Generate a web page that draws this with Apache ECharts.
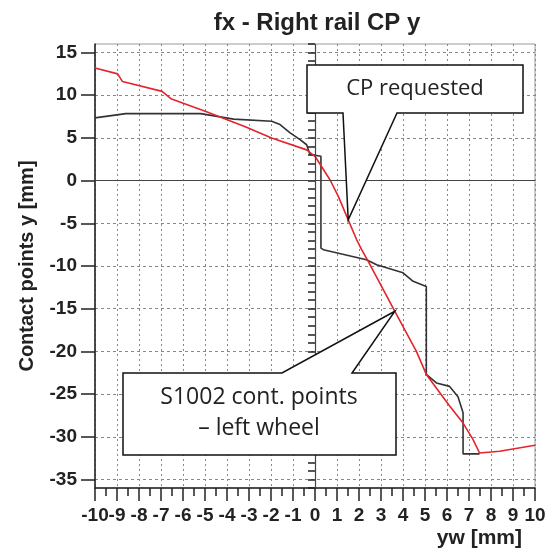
<!DOCTYPE html>
<html>
<head>
<meta charset="utf-8">
<script src="https://cdn.jsdelivr.net/npm/echarts@6/dist/echarts.min.js"></script>
<style>
  html, body { margin: 0; padding: 0; background: #fff; }
  #chart { width: 553px; height: 550px; }
</style>
</head>
<body>
<div id="chart"></div>
<script>
// red curve (CP requested / S1002 contact points)
const redX = [-10, -8.97, -8.75, -6.95, -6.55, -4.96, -3.17, -1.97, -0.38, 0, 0.68, 1.06, 1.51, 1.89, 2.12, 2.42, 3.63, 4.61, 5.06, 6.12, 6.73, 7.18, 7.48, 8.39, 10]
const redY = [13.2, 12.5, 11.6, 10.45, 9.6, 8.1, 6.3, 5.0, 3.6, 2.85, 0.1, -1.84, -4.6, -6.9, -8.09, -9.46, -15.3, -20.0, -22.7, -26.4, -28.4, -30.3, -31.9, -31.7, -31.0]

// black curve (S1002 left wheel)
const blackX = [-10, -8.6, -5.2, -3.7, -1.97, -1.59, -1.13, -0.68, -0.38, -0.23, 0.27, 0.27, 0.38, 2.34, 2.8, 4.0, 4.46, 5.06, 5.06, 5.52, 6.12, 6.5, 6.73, 6.73, 7.48]
const blackY = [7.35, 7.85, 7.85, 7.2, 6.95, 6.56, 5.6, 4.8, 4.2, 3.05, 2.85, -7.9, -8.09, -9.26, -9.85, -10.8, -11.8, -12.4, -22.7, -23.7, -24.1, -25.3, -27.2, -32.0, -32.0]

const yMajor = [-35, -30, -25, -20, -15, -10, -5, 0, 5, 10, 15]

const pair = (xs, ys) => xs.map((x, i) => [x, ys[i]])

const chart = echarts.init(document.getElementById('chart'))
const boldFont = { fontFamily: 'Liberation Sans, Arial, sans-serif', fontWeight: 'bold', color: '#222' }

chart.setOption({
  backgroundColor: '#fff',
  animation: false,
  title: {
    text: 'fx - Right rail CP y',
    left: 312,
    textAlign: 'center',
    top: 6,
    textStyle: { ...boldFont, fontSize: 24 }
  },
  grid: {
    left: 95, right: 18, top: 44, bottom: 62,
    show: true, borderColor: '#999', borderWidth: 1, backgroundColor: '#fff'
  },
  xAxis: {
    type: 'value',
    min: -10, max: 10, interval: 1,
    name: 'yw [mm]',
    nameLocation: 'end',
    nameGap: -13,
    nameTextStyle: { ...boldFont, fontSize: 21, align: 'right', verticalAlign: 'top', padding: [40, 0, 0, 0] },
    axisLine: { onZero: false, lineStyle: { color: '#222', width: 1.5 } },
    axisTick: { length: 13, lineStyle: { color: '#222', width: 1.5 } },
    minorTick: { show: true, splitNumber: 2, length: 8, lineStyle: { color: '#222', width: 1.5 } },
    axisLabel: { ...boldFont, fontSize: 19, margin: 18, hideOverlap: false, showMinLabel: true, showMaxLabel: true },
    splitLine: { show: true, lineStyle: { color: '#888', type: [2, 3], width: 1 } }
  },
  yAxis: [
    {
      type: 'value',
      min: -36, max: 16,
      name: 'Contact points y [mm]',
      nameLocation: 'middle',
      nameGap: 58,
      nameTextStyle: { ...boldFont, fontSize: 20 },
      axisLine: { onZero: false, lineStyle: { color: '#222', width: 1.5 } },
      axisTick: { length: 14, customValues: yMajor, lineStyle: { color: '#222', width: 1.5 } },
      axisLabel: { ...boldFont, fontSize: 19, margin: 18, customValues: yMajor },
      splitLine: { show: true, lineStyle: { color: '#888', type: [3, 3], width: 1 } }
    },
    {
      // minor ticks every 1 mm
      type: 'value',
      position: 'left',
      min: -36, max: 16, interval: 1,
      axisLine: { show: false },
      axisTick: { length: 7, lineStyle: { color: '#222', width: 1.5 } },
      axisLabel: { show: false },
      splitLine: { show: false }
    }
  ],
  series: [
    {
      type: 'line',
      data: pair(blackX, blackY),
      showSymbol: false,
      lineStyle: { color: '#333', width: 1.6 },
      markLine: {
        silent: true,
        symbol: 'none',
        label: { show: false },
        lineStyle: { color: '#444', type: 'solid', width: 1.2 },
        data: [{ xAxis: 0 }, { yAxis: 0 }]
      }
    },
    {
      type: 'line',
      data: pair(redX, redY),
      showSymbol: false,
      lineStyle: { color: '#e3242b', width: 1.6 }
    }
  ]
})

// callout boxes pointing at the red curve
const tipA = chart.convertToPixel({ xAxisIndex: 0, yAxisIndex: 0 }, [1.51, -4.6])
const tipB = chart.convertToPixel({ xAxisIndex: 0, yAxisIndex: 0 }, [3.63, -15.3])
const calloutStyle = { fill: '#fff', stroke: '#111', lineWidth: 1.5 }
const calloutText = { fontFamily: 'Open Sans, Noto Sans, sans-serif', fontSize: 22, fill: '#222', align: 'center', verticalAlign: 'middle' }

chart.setOption({
  graphic: [
    {
      type: 'polygon',
      shape: { points: [[307, 65], [523, 65], [523, 113], [397, 113], tipA, [343, 113], [307, 113]] },
      style: calloutStyle,
      z: 100
    },
    {
      type: 'text', x: 415, y: 89, z: 101,
      style: { ...calloutText, text: 'CP requested' }
    },
    {
      type: 'polygon',
      shape: { points: [[123, 373], [282, 373], tipB, [352, 373], [396, 373], [396, 455], [123, 455]] },
      style: calloutStyle,
      z: 100
    },
    {
      type: 'text', x: 259, y: 397, z: 101,
      style: { ...calloutText, fontSize: 23, text: 'S1002 cont. points' }
    },
    {
      type: 'text', x: 259, y: 428, z: 101,
      style: { ...calloutText, fontSize: 23, text: '– left wheel' }
    }
  ]
})
</script>
</body>
</html>
